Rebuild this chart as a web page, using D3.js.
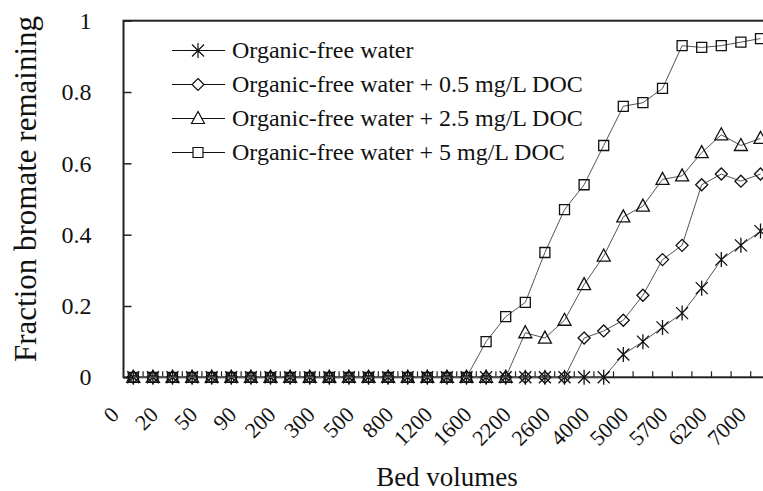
<!DOCTYPE html>
<html>
<head>
<meta charset="utf-8">
<script src="https://cdn.jsdelivr.net/npm/d3@7"></script>
<style>
  body { margin: 0; background: #fff; }
  text { font-family: "Liberation Serif", "Times New Roman", serif; fill: #111; }
</style>
</head>
<body>
<div id="chart"></div>
<script>
'use strict';

// bed volumes, only every other one is labelled on the axis
var categories = ['0', '', '20', '', '50', '', '90', '', '200', '', '300', '', '500', '',
  '800', '', '1200', '', '1600', '', '2200', '', '2600', '', '4000', '', '5000', '',
  '5700', '', '6200', '', '7000'];

var organicFree = [0, 0, 0, 0, 0, 0, 0, 0, 0, 0, 0, 0, 0, 0, 0, 0, 0, 0, 0, 0, 0, 0, 0, 0, 0,
  0.064, 0.10, 0.14, 0.18, 0.25, 0.33, 0.37, 0.41];
var doc05 = [0, 0, 0, 0, 0, 0, 0, 0, 0, 0, 0, 0, 0, 0, 0, 0, 0, 0, 0, 0, 0, 0, 0,
  0.11, 0.13, 0.16, 0.23, 0.33, 0.37, 0.54, 0.57, 0.55, 0.57];
var doc25 = [0, 0, 0, 0, 0, 0, 0, 0, 0, 0, 0, 0, 0, 0, 0, 0, 0, 0, 0, 0,
  0.125, 0.11, 0.16, 0.26, 0.34, 0.45, 0.48, 0.555, 0.565, 0.63, 0.68, 0.65, 0.67];
var doc5 = [0, 0, 0, 0, 0, 0, 0, 0, 0, 0, 0, 0, 0, 0, 0, 0, 0, 0,
  0.10, 0.17, 0.21, 0.35, 0.47, 0.54, 0.65, 0.76, 0.77, 0.81, 0.93, 0.925, 0.93, 0.94, 0.95];

var seriesNames = ['Organic-free water', 'Organic-free water + 0.5 mg/L DOC',
  'Organic-free water + 2.5 mg/L DOC', 'Organic-free water + 5 mg/L DOC'];
var yTicks = [0, 0.2, 0.4, 0.6, 0.8, 1];

var series = [
  {name: seriesNames[0], values: organicFree, marker: 'star'},
  {name: seriesNames[1], values: doc05, marker: 'diamond'},
  {name: seriesNames[2], values: doc25, marker: 'triangle'},
  {name: seriesNames[3], values: doc5, marker: 'square'}
];

var width = 763,
    height = 491,
    plotLeft = 123.5,
    plotTop = 20.7,
    plotBottom = 377.3,
    step = 19.6;

var svg = d3.select('#chart').append('svg')
    .attr('width', width)
    .attr('height', height);

var x = d3.scaleBand()
    .domain(d3.range(categories.length))
    .range([plotLeft, plotLeft + step * categories.length]);

var y = d3.scaleLinear()
    .domain([0, 1])
    .range([plotBottom, plotTop]);

var cx = function(i) { return x(i) + x.bandwidth() / 2; };

// marker shapes
var markerPath = function(type) {
  if (type === 'square') return 'M-5,-5H5V5H-5Z';
  if (type === 'diamond') return 'M0,-6L6,0L0,6L-6,0Z';
  if (type === 'triangle') return 'M0,-7L6.5,5H-6.5Z';
  return 'M-6,-6L6,6M-6,6L6,-6M0,-7.5V7.5';
};

// frame
svg.append('rect')
    .attr('x', plotLeft)
    .attr('y', plotTop)
    .attr('width', step * categories.length)
    .attr('height', plotBottom - plotTop)
    .attr('fill', 'none')
    .attr('stroke', '#222')
    .attr('stroke-width', 2);

// y axis
var yAxis = svg.append('g')
    .attr('transform', 'translate(' + plotLeft + ',0)')
    .call(d3.axisLeft(y).tickValues(yTicks).tickSize(-8).tickPadding(32)
      .tickFormat(function(d) { return d; }));
yAxis.select('.domain').remove();
yAxis.selectAll('line').attr('stroke', '#222').attr('stroke-width', 1.5);
yAxis.selectAll('text')
    .style('font-size', '24px')
    .attr('font-family', null);

// x ticks sit between the categories
svg.append('g').selectAll('line')
    .data(d3.range(1, categories.length))
    .enter().append('line')
      .attr('x1', function(d) { return x(d); })
      .attr('x2', function(d) { return x(d); })
      .attr('y1', plotBottom)
      .attr('y2', plotBottom - 6)
      .attr('stroke', '#222')
      .attr('stroke-width', 1.2);

svg.append('g').selectAll('text')
    .data(d3.range(categories.length).filter(function(i) { return categories[i] !== ''; }))
    .enter().append('text')
      .attr('transform', function(d) { return 'translate(' + (cx(d) - 13) + ',' + 416 + ') rotate(-45)'; })
      .attr('text-anchor', 'end')
      .style('font-size', '22px')
      .text(function(d) { return categories[d]; });

// axis titles
svg.append('text')
    .attr('x', 447)
    .attr('y', 486)
    .attr('text-anchor', 'middle')
    .style('font-size', '27px')
    .text('Bed volumes');

svg.append('text')
    .attr('transform', 'translate(36,' + 189 + ') rotate(-90)')
    .attr('text-anchor', 'middle')
    .style('font-size', '31px')
    .text('Fraction bromate remaining');

// series
var line = d3.line()
    .x(function(d, i) { return cx(i); })
    .y(function(d) { return y(d); });

var plot = svg.append('g');

series.forEach(function(s) {
  plot.append('path')
      .datum(s.values)
      .attr('d', line)
      .attr('fill', 'none')
      .attr('stroke', '#555')
      .attr('stroke-width', 1);

  plot.selectAll(null)
      .data(s.values)
      .enter().append('path')
        .attr('transform', function(d, i) { return 'translate(' + cx(i) + ',' + y(d) + ')'; })
        .attr('d', markerPath(s.marker))
        .attr('fill', 'none')
        .attr('stroke', '#111')
        .attr('stroke-width', 1.3);
});

// legend
var legend = svg.append('g')
    .selectAll('g')
    .data(series)
    .enter().append('g')
      .attr('transform', function(d, i) { return 'translate(172,' + (50.5 + i * 34) + ')'; });

legend.append('line')
    .attr('x1', 0)
    .attr('x2', 53)
    .attr('stroke', '#111')
    .attr('stroke-width', 1.2);

legend.append('path')
    .attr('transform', 'translate(26,0)')
    .attr('d', function(d) { return markerPath(d.marker); })
    .attr('fill', '#fff')
    .attr('stroke', '#111')
    .attr('stroke-width', 1.2);

legend.append('text')
    .attr('x', 60)
    .attr('dy', '0.32em')
    .style('font-size', '24px')
    .text(function(d) { return d.name; });
</script>
</body>
</html>
